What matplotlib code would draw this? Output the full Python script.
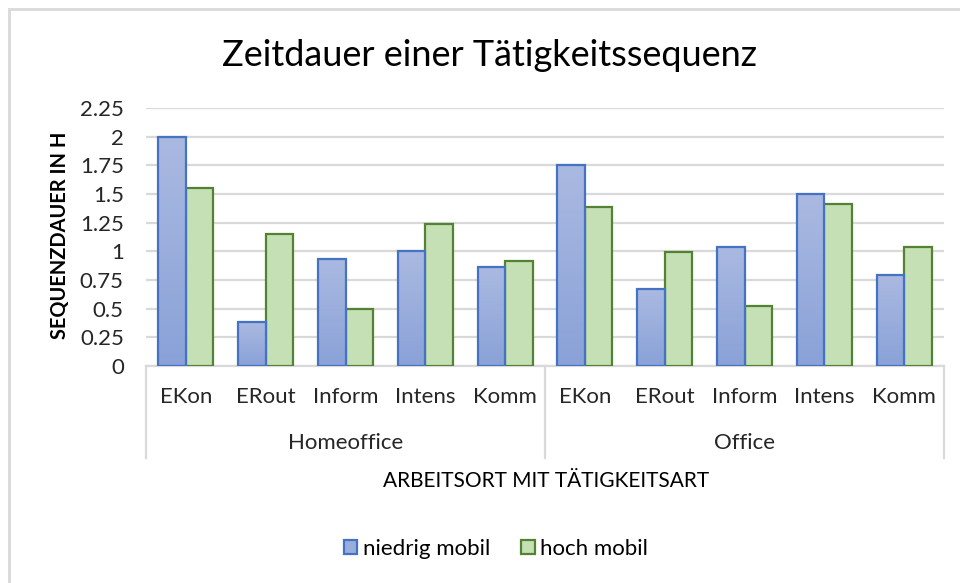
import numpy as np
import matplotlib.pyplot as plt
from matplotlib.patches import Rectangle, Patch
from matplotlib.colors import LinearSegmentedColormap
import matplotlib.transforms as mtransforms

plt.rcParams['font.family'] = ['Lato', 'DejaVu Sans']

# data
orte = ['Homeoffice', 'Office']
arten = ['EKon', 'ERout', 'Inform', 'Intens', 'Komm']
niedrig = [2.0, 0.38, 0.93, 1.0, 0.86, 1.75, 0.67, 1.04, 1.5, 0.79]
hoch = [1.555, 1.15, 0.5, 1.24, 0.915, 1.385, 0.99, 0.52, 1.41, 1.04]
yticks = [0, 0.25, 0.5, 0.75, 1, 1.25, 1.5, 1.75, 2, 2.25]
yticklabels = ['0', '0.25', '0.5', '0.75', '1', '1.25', '1.5', '1.75', '2', '2.25']

blue_edge = '#4472C4'
green_edge = '#548235'
green_fill = '#C5E0B4'
txt = '#262626'
blue_cmap = LinearSegmentedColormap.from_list('b', ['#8AA2D8', '#AAB9E1'])

fig = plt.figure(figsize=(9.6, 5.83), dpi=100)
ax = fig.add_axes([146/960, 1-366/583, 798/960, 258/583])

x = np.arange(len(niedrig))
w = 0.345
bars_b = ax.bar(x - w/2, niedrig, width=w, color='#9AAEDC', edgecolor=blue_edge, linewidth=1.6, zorder=3)
bars_g = ax.bar(x + w/2, hoch, width=w, color=green_fill, edgecolor=green_edge, linewidth=1.6, zorder=3)

# vertical gradient for the blue bars
grad = np.linspace(0, 1, 100).reshape(-1, 1)
for b in bars_b:
    bx, by = b.get_x(), b.get_y()
    im = ax.imshow(grad, cmap=blue_cmap, aspect='auto', origin='lower',
                   extent=[bx, bx + b.get_width(), by, by + b.get_height()], zorder=3.5)
    im.set_clip_path(b)
    b.set_facecolor('none')
    b.set_zorder(4)

ax.set_xlim(-0.5, len(niedrig) - 0.5)
ax.set_ylim(0, 2.25)
ax.set_yticks(yticks)
ax.set_yticklabels(yticklabels)
ax.yaxis.grid(True, color='#D9D9D9', linewidth=1.6, zorder=0)
ax.set_axisbelow(True)
for s in ['top', 'right', 'left']:
    ax.spines[s].set_visible(False)
ax.spines['bottom'].set_color('#D9D9D9')
ax.spines['bottom'].set_linewidth(1.6)
ax.tick_params(axis='y', length=0, labelsize=16, colors=txt, pad=16)
ax.set_xticks([])

# category labels, group separators and group labels
trans = mtransforms.blended_transform_factory(ax.transData, ax.transAxes)
for i, a in enumerate(arten * len(orte)):
    ax.text(x[i], -31/258, a, transform=trans, ha='center', va='center', fontsize=16, color=txt)
for sx in [-0.5, 4.5, 9.5]:
    ax.plot([sx, sx], [0, -92/258], transform=trans, color='#D9D9D9', linewidth=1.6, clip_on=False)
for i, o in enumerate(orte):
    ax.text(i*5 + 2, -77/258, o, transform=trans, ha='center', va='center',
            fontsize=16, color=txt)

fig.text(490/960, 1-55/583, 'Zeitdauer einer Tätigkeitssequenz', ha='center', va='center',
         fontsize=26, color='#000000')
fig.text(60/960, 1-235/583, 'SEQUENZDAUER IN H', rotation=90, ha='center', va='center',
         fontsize=14.4, fontweight='bold', color='#000000')
fig.text(546/960, 1-481/583, 'ARBEITSORT MIT TÄTIGKEITSART', ha='center', va='center',
         fontsize=15, color='#000000')

handles = [Patch(facecolor='#9AAEDC', edgecolor=blue_edge, linewidth=1.6),
           Patch(facecolor=green_fill, edgecolor=green_edge, linewidth=1.6)]
fig.legend(handles, ['niedrig mobil', 'hoch mobil'], loc='center', bbox_to_anchor=(496/960, 1-549/583),
           ncol=2, frameon=False, fontsize=16, handlelength=0.6, handleheight=0.6,
           handletextpad=0.25, columnspacing=1.4)

# chart border
fig.patches.append(Rectangle((9/960, -0.1), 1.2, 1 - 9/583 + 0.1, transform=fig.transFigure,
                             fill=False, edgecolor='#D9D9D9', linewidth=2))

fig.savefig('out.png', dpi=100)
